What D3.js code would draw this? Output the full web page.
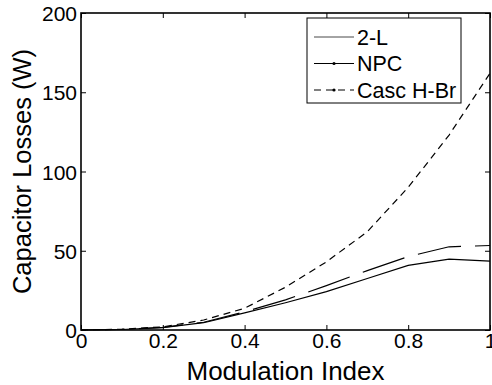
<!DOCTYPE html>
<html><head><meta charset="utf-8">
<script src="https://cdn.jsdelivr.net/npm/d3@7"></script>
<style>body{margin:0;background:#fff}svg{display:block}text{font-family:"Liberation Sans",Arial,sans-serif;fill:#000}</style>
</head><body><svg id="c" width="492" height="385"></svg>
<script>
const modIndex = [0, 0.1, 0.2, 0.3, 0.4, 0.5, 0.6, 0.7, 0.8, 0.9, 1.0];
const twoL = [0, 0.3, 1.5, 4.6, 10.8, 17.2, 24.2, 32.5, 40.8, 44.7, 43.5];
const npc = [0, 0.3, 1.6, 4.9, 11.5, 19.0, 28.0, 37.5, 46.3, 52.5, 53.3];
const cascHBr = [0, 0.5, 2.0, 6.3, 13.7, 27.0, 43.0, 62.0, 90.0, 123.0, 162.0];
const xTicks = [0, 0.2, 0.4, 0.6, 0.8, 1];
const yTicks = [0, 50, 100, 150, 200];
const seriesNames = ["2-L", "NPC", "Casc H-Br"];

const svg = d3.select("#c");
const L = 81, R = 490, T = 13, B = 330;
const x = d3.scaleLinear().domain([0, 1]).range([L, R]);
const y = d3.scaleLinear().domain([0, 200]).range([B, T]);

const gx = svg.append("g").attr("transform", `translate(0,${B})`)
  .call(d3.axisBottom(x).tickValues(xTicks).tickSizeInner(-5).tickSizeOuter(0).tickPadding(3)
    .tickFormat(d => d === 0 ? "0" : d === 1 ? "1" : d3.format(".1f")(d)));
const gy = svg.append("g").attr("transform", `translate(${L},0)`)
  .call(d3.axisLeft(y).tickValues(yTicks).tickSizeInner(-5).tickSizeOuter(0).tickPadding(4));
const gt = svg.append("g").attr("transform", `translate(0,${T})`)
  .call(d3.axisTop(x).tickValues(xTicks).tickSizeInner(-5).tickSizeOuter(0).tickFormat(""));
const gr = svg.append("g").attr("transform", `translate(${R},0)`)
  .call(d3.axisRight(y).tickValues(yTicks).tickSizeInner(-5).tickSizeOuter(0).tickFormat(""));
[gx, gy, gt, gr].forEach(g => {
  g.select(".domain").remove();
  g.selectAll(".tick line").attr("stroke", "#000").attr("stroke-width", 1);
  g.selectAll("text").style("font-size", "21px").attr("fill", "#000");
});
gx.selectAll("text").attr("dy", "0.71em");
gy.selectAll("text").attr("dy", "0.36em");

const line = d3.line().x((d, i) => x(modIndex[i])).y(d => y(d));
svg.append("path").datum(twoL).attr("d", line).attr("fill", "none").attr("stroke", "#000").attr("stroke-width", 1.2);
svg.append("path").datum(npc).attr("d", line).attr("fill", "none").attr("stroke", "#000").attr("stroke-width", 1.2).attr("stroke-dasharray", "44,14");
svg.append("path").datum(cascHBr).attr("d", line).attr("fill", "none").attr("stroke", "#000").attr("stroke-width", 1.2).attr("stroke-dasharray", "7,5");

svg.append("rect").attr("x", L).attr("y", T).attr("width", R - L).attr("height", B - T)
  .attr("fill", "none").attr("stroke", "#000").attr("stroke-width", 1.6);

const lg = svg.append("g");
lg.append("rect").attr("x", 307).attr("y", 18).attr("width", 154).attr("height", 85)
  .attr("fill", "#fff").attr("stroke", "#000").attr("stroke-width", 1);
const rows = [37, 63.5, 90];
const dashes = [null, null, "7,5"];
seriesNames.forEach((n, i) => {
  lg.append("line").attr("x1", 314).attr("x2", 354).attr("y1", rows[i]).attr("y2", rows[i])
    .attr("stroke", i === 0 ? "#333" : "#000").attr("stroke-width", i === 0 ? 0.9 : 1.1)
    .attr("stroke-dasharray", dashes[i]);
  if (i > 0) lg.append("circle").attr("cx", 334).attr("cy", rows[i]).attr("r", 1.6).attr("fill", "#000");
  lg.append("text").attr("x", 357).attr("y", rows[i]).attr("dy", "0.36em").style("font-size", "21.5px").text(n);
});

svg.append("text").attr("x", (L + R) / 2).attr("y", 380).attr("text-anchor", "middle")
  .style("font-size", "26px").text("Modulation Index");
svg.append("text").attr("transform", `translate(31,${(T + B) / 2}) rotate(-90)`).attr("text-anchor", "middle")
  .style("font-size", "25.5px").text("Capacitor Losses (W)");
</script></body></html>
